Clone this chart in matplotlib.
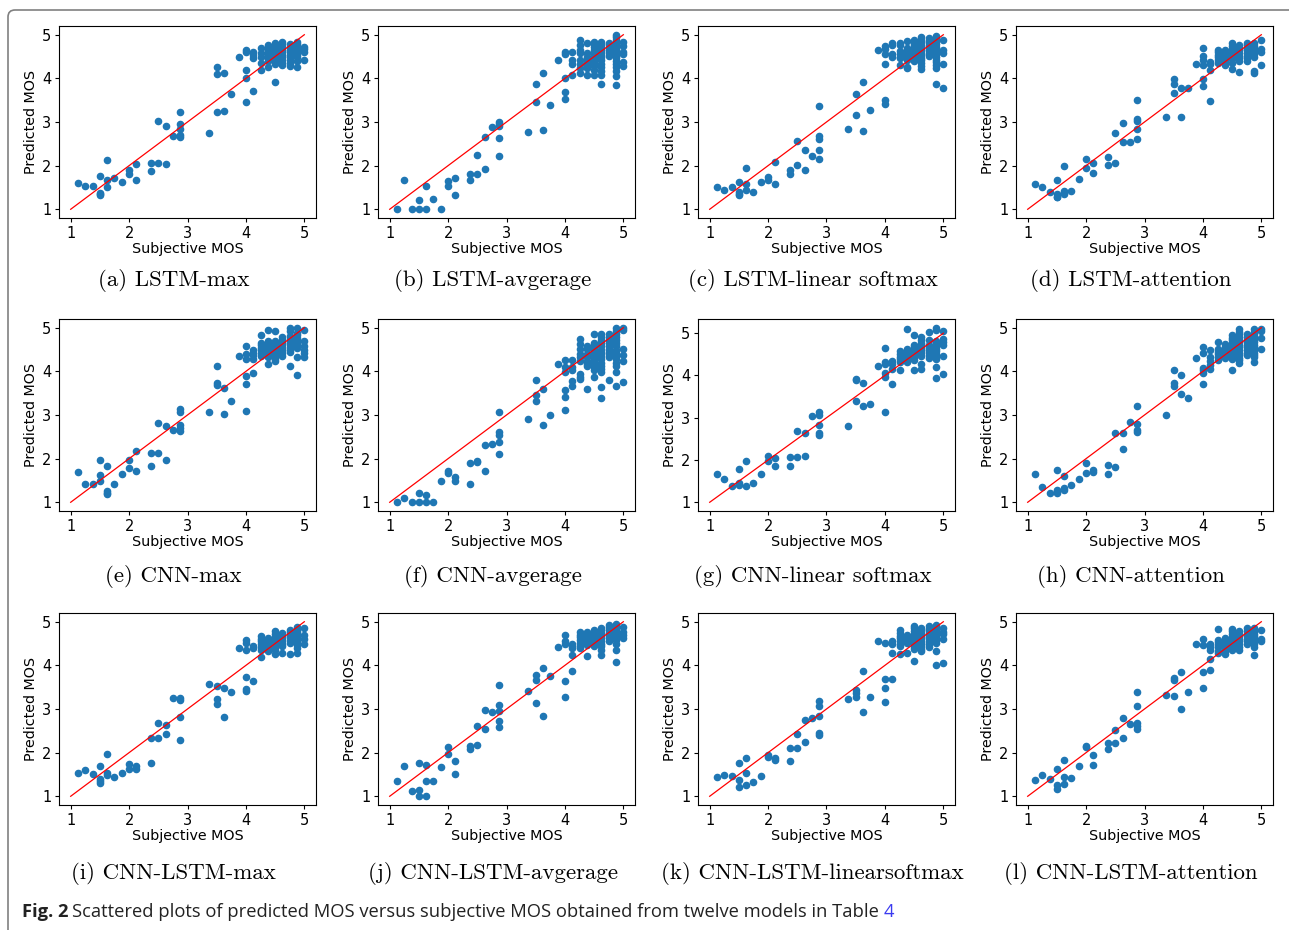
import matplotlib
matplotlib.use("Agg")
import matplotlib.pyplot as plt
from matplotlib.patches import FancyBboxPatch
from matplotlib.transforms import IdentityTransform

# subjective MOS levels (shared by all twelve models)
levels = [1.125, 1.25, 1.375, 1.5, 1.625, 1.75, 1.875, 2.0, 2.125, 2.375, 2.5, 2.625, 2.75, 2.875,
          3.375, 3.5, 3.625, 3.75, 3.875, 4.0, 4.125, 4.25, 4.375, 4.5, 4.625, 4.75, 4.875, 5.0]

# predicted MOS per level, one list per model
lstm_max = [[1.61], [1.54], [1.54], [1.77, 1.38, 1.35, 1.32], [2.14, 1.66, 1.50], [1.72], [1.63],
            [1.90, 1.81], [2.04, 1.67], [2.05, 1.87], [3.03, 2.05], [2.90, 2.03], [2.67],
            [3.23, 2.95, 2.84, 2.71, 2.66], [2.75], [4.25, 4.10, 3.23], [4.13, 3.26], [3.65], [4.50],
            [4.65, 4.60, 4.20, 4.01, 3.46], [4.61, 4.53, 4.46, 3.70], [4.69, 4.59, 4.50, 4.36, 4.19],
            [4.76, 4.70, 4.64, 4.58, 4.52, 4.46, 4.40, 4.27],
            [4.80, 4.74, 4.68, 4.62, 4.56, 4.50, 4.44, 4.38, 4.33, 3.91],
            [4.84, 4.78, 4.72, 4.66, 4.60, 4.54, 4.48, 4.42, 4.36, 4.31],
            [4.78, 4.72, 4.66, 4.60, 4.54, 4.48, 4.42, 4.36, 4.28],
            [4.84, 4.78, 4.72, 4.66, 4.60, 4.54, 4.48, 4.40, 4.25], [4.72, 4.67, 4.61, 4.43]]

lstm_avg = [[1.00], [1.66], [1.00], [1.22, 1.00], [1.54, 1.00], [1.24], [1.00], [1.64, 1.54],
            [1.71, 1.33], [1.81, 1.66], [2.25, 1.81], [2.66, 1.93], [2.89],
            [2.99, 2.95, 2.90, 2.64, 2.23], [2.77], [3.88, 3.46], [4.13, 2.82], [3.39], [4.42],
            [4.60, 4.56, 4.01, 3.68, 3.53], [4.60, 4.42, 4.34, 4.08],
            [4.87, 4.76, 4.66, 4.57, 4.42, 4.34, 4.23, 4.13],
            [4.80, 4.57, 4.50, 4.44, 4.38, 4.31, 4.23, 4.08],
            [4.84, 4.78, 4.72, 4.66, 4.60, 4.54, 4.48, 4.42, 4.36, 4.28, 4.20, 4.08],
            [4.84, 4.78, 4.72, 4.66, 4.60, 4.54, 4.48, 4.42, 4.34, 4.26, 4.17, 4.08, 3.88],
            [4.82, 4.76, 4.70, 4.64, 4.58, 4.52],
            [5.00, 4.94, 4.88, 4.82, 4.76, 4.70, 4.64, 4.58, 4.52, 4.46, 4.40, 4.34, 4.26, 4.18, 4.05, 3.84],
            [4.84, 4.75, 4.61, 4.55, 4.37, 4.28]]

lstm_lin = [[1.51], [1.44], [1.50], [1.63, 1.40, 1.35, 1.32], [1.95, 1.57, 1.44], [1.39], [1.63],
            [1.74, 1.67], [2.08, 1.58], [1.91, 1.80], [2.56, 2.02], [2.35, 1.89], [2.22],
            [3.36, 2.69, 2.60, 2.35, 2.16], [2.85], [3.65, 3.16], [3.92, 2.79], [3.28], [4.64],
            [4.74, 4.68, 4.56, 4.34, 3.50, 3.42], [4.82, 4.76, 4.55, 4.48],
            [4.82, 4.77, 4.62, 4.56, 4.50, 4.46, 4.30],
            [4.85, 4.69, 4.63, 4.57, 4.51, 4.45, 4.42, 4.27, 4.23],
            [4.88, 4.82, 4.76, 4.70, 4.64, 4.58, 4.52, 4.46, 4.40],
            [4.95, 4.89, 4.83, 4.77, 4.71, 4.65, 4.59, 4.53, 4.47, 4.41, 4.35, 4.28, 4.22],
            [4.92, 4.86, 4.80, 4.74, 4.68, 4.62, 4.56, 4.52],
            [4.97, 4.91, 4.85, 4.79, 4.73, 4.67, 4.61, 4.55, 4.49, 4.43, 4.37, 4.30, 4.24, 3.87],
            [4.89, 4.66, 4.59, 4.34, 3.77]]

lstm_att = [[1.58], [1.52], [1.40], [1.67, 1.34, 1.29, 1.27], [2.00, 1.43, 1.38, 1.34], [1.41], [1.70],
            [2.15, 1.95], [2.05, 1.83], [2.19, 2.02], [2.75, 2.05], [2.97, 2.54], [2.54],
            [3.51, 3.07, 3.03, 2.84, 2.62], [3.12], [3.99, 3.88, 3.67], [3.77, 3.11], [3.77], [4.33],
            [4.70, 4.52, 4.43, 4.30, 3.99, 3.82], [4.38, 4.33, 4.20, 3.48],
            [4.66, 4.60, 4.54, 4.48, 4.42, 4.36],
            [4.66, 4.60, 4.54, 4.48, 4.42, 4.35, 4.31],
            [4.80, 4.74, 4.68, 4.62, 4.56, 4.50, 4.44, 4.36, 4.22],
            [4.76, 4.70, 4.64, 4.58, 4.52, 4.46, 4.40, 4.14],
            [4.82, 4.76, 4.70, 4.64, 4.58, 4.52, 4.46, 4.40],
            [4.80, 4.74, 4.68, 4.62, 4.56, 4.50, 4.17, 4.13], [4.88, 4.68, 4.61, 4.30]]

cnn_max = [[1.70], [1.41], [1.42], [1.97, 1.62, 1.49], [1.84, 1.26, 1.22, 1.18], [1.43], [1.64],
           [1.98, 1.78], [2.18, 1.71], [2.13, 1.83], [2.81, 2.14], [2.74, 1.97], [2.65],
           [3.13, 3.08, 2.76, 2.70, 2.63], [3.06], [4.13, 3.73, 3.69], [3.61, 3.03], [3.32], [4.36],
           [4.58, 4.39, 4.28, 3.90, 3.71, 3.10], [4.49, 4.43, 4.37, 4.28, 3.96],
           [4.84, 4.66, 4.60, 4.54, 4.48, 4.41, 4.36],
           [4.95, 4.70, 4.64, 4.58, 4.52, 4.46, 4.40, 4.32, 4.16],
           [4.92, 4.70, 4.64, 4.58, 4.52, 4.46, 4.40, 4.34, 4.28, 4.23],
           [4.78, 4.72, 4.66, 4.60, 4.54, 4.48, 4.42, 4.36],
           [5.00, 4.93, 4.80, 4.74, 4.68, 4.62, 4.56, 4.50, 4.44, 4.13],
           [5.00, 4.89, 4.83, 4.77, 4.71, 4.65, 4.59, 4.53, 4.32, 3.92],
           [4.94, 4.70, 4.58, 4.50, 4.41, 4.33]]

cnn_avg = [[1.00], [1.10], [1.00], [1.21, 1.00], [1.16, 1.00], [1.00], [1.48], [1.72, 1.68],
           [1.57, 1.49], [1.91, 1.42], [1.95, 1.92], [2.32, 1.71], [2.33],
           [3.06, 2.60, 2.55, 2.38, 2.11], [2.90], [3.81, 3.46, 3.31], [3.59, 2.76], [3.00], [4.17],
           [4.25, 4.11, 3.99, 3.57, 3.42, 3.11], [4.25, 4.10, 4.02, 3.78, 3.66],
           [4.75, 4.62, 4.51, 4.39, 4.32, 4.24, 3.94, 3.88, 3.82],
           [4.59, 4.52, 4.39, 4.32, 4.24, 4.17, 4.13, 3.59],
           [4.86, 4.66, 4.59, 4.52, 4.45, 4.38, 4.31, 4.24, 4.17, 4.10, 4.03, 3.86],
           [4.85, 4.79, 4.72, 4.65, 4.58, 4.50, 4.42, 4.35, 4.28, 4.20, 4.13, 4.05, 3.98, 3.65, 3.39],
           [4.85, 4.79, 4.72, 4.65, 4.58, 4.52, 4.45, 4.39, 4.32, 3.80],
           [5.00, 4.93, 4.86, 4.79, 4.72, 4.65, 4.58, 4.50, 4.42, 4.35, 4.28, 4.20, 4.13, 3.98, 3.67],
           [5.00, 4.95, 4.52, 4.37, 4.24, 3.75]]

cnn_lin = [[1.66], [1.55], [1.39], [1.78, 1.46, 1.40], [1.97, 1.39], [1.46], [1.66], [2.10, 1.98],
           [2.04, 1.85], [2.08, 1.87], [2.68, 2.08], [2.64, 2.10], [3.03],
           [3.13, 3.07, 2.83, 2.64, 2.60], [2.80], [3.92, 3.89, 3.39], [3.83, 3.28], [3.33], [4.23],
           [4.64, 4.33, 4.27, 4.06, 3.96, 3.13], [4.34, 4.27, 4.15, 3.80],
           [4.57, 4.51, 4.44, 4.38, 4.32, 4.12],
           [5.10, 4.62, 4.56, 4.50, 4.44, 4.38, 4.33],
           [4.95, 4.73, 4.67, 4.61, 4.55, 4.49, 4.43, 4.37, 4.14],
           [4.90, 4.84, 4.78, 4.72, 4.66, 4.60, 4.53, 4.47, 4.26, 4.16],
           [5.02, 4.85, 4.73, 4.67, 4.61, 4.55, 4.48, 4.42],
           [5.13, 5.08, 4.81, 4.75, 4.69, 4.63, 4.57, 4.51, 4.45, 4.38, 4.20, 3.93],
           [5.06, 4.87, 4.79, 4.71, 4.47, 4.03]]

cnn_att = [[1.64], [1.34], [1.21], [1.73, 1.29, 1.26, 1.22], [1.61, 1.32, 1.28], [1.40], [1.54],
           [1.91, 1.68], [1.73, 1.70], [1.85, 1.64], [2.58, 1.81], [2.59, 2.23], [2.84],
           [3.21, 2.80, 2.66, 2.60], [3.00], [4.04, 3.73, 3.67], [3.92, 3.49], [3.38], [4.31],
           [4.55, 4.43, 4.08, 4.03, 3.96, 3.70], [4.49, 4.34, 4.24, 4.14, 4.06],
           [4.67, 4.51, 4.45, 4.39, 4.33, 4.25],
           [4.62, 4.56, 4.50, 4.44, 4.38, 4.31],
           [4.83, 4.77, 4.71, 4.65, 4.59, 4.53, 4.47, 4.41, 4.35, 4.28, 4.04],
           [4.97, 4.91, 4.85, 4.79, 4.73, 4.67, 4.61, 4.55, 4.49, 4.43, 4.37, 4.31, 4.25, 4.19],
           [4.85, 4.79, 4.73, 4.67, 4.61, 4.55, 4.49, 4.43, 4.37],
           [4.97, 4.91, 4.85, 4.79, 4.73, 4.67, 4.61, 4.55, 4.49, 4.43, 4.38, 4.33, 4.22],
           [4.97, 4.92, 4.76, 4.51]]

cl_max = [[1.54], [1.61], [1.51], [1.69, 1.39, 1.34, 1.30], [1.96, 1.53, 1.48], [1.45], [1.54],
          [1.75, 1.63], [1.70, 1.62], [2.34, 1.77], [2.67, 2.34], [2.63, 2.43], [3.26],
          [3.25, 3.21, 2.82, 2.29], [3.57], [3.52, 3.23, 3.11], [3.47, 2.82], [3.39], [4.39],
          [4.57, 4.52, 4.36, 3.74, 3.45, 3.42], [4.45, 4.39, 3.64],
          [4.67, 4.61, 4.55, 4.49, 4.43, 4.36, 4.20],
          [4.63, 4.57, 4.51, 4.45, 4.39, 4.33],
          [4.78, 4.72, 4.66, 4.60, 4.54, 4.48, 4.42, 4.36, 4.25],
          [4.74, 4.68, 4.62, 4.56, 4.50, 4.44, 4.29],
          [4.82, 4.76, 4.70, 4.64, 4.58, 4.52, 4.25],
          [4.88, 4.82, 4.76, 4.70, 4.64, 4.58, 4.52, 4.46, 4.40, 4.28],
          [4.85, 4.69, 4.60, 4.48]]

cl_avg = [[1.34], [1.70], [1.11], [1.77, 1.14, 1.01], [1.72, 1.34, 1.01], [1.36], [1.67], [2.12, 1.98],
          [1.81, 1.51], [2.16, 2.09], [2.60, 2.17], [2.98, 2.55], [2.92],
          [3.56, 3.10, 2.95, 2.72, 2.59], [3.42], [3.77, 3.67, 3.13], [3.93, 2.85], [3.76], [4.42],
          [4.69, 4.56, 4.48, 3.65, 3.28], [4.50, 4.44, 4.39, 4.23, 3.88],
          [4.76, 4.70, 4.64, 4.58, 4.52, 4.45, 4.40],
          [4.77, 4.71, 4.65, 4.59, 4.53, 4.47, 4.22],
          [4.82, 4.76, 4.70, 4.64, 4.58, 4.51, 4.45],
          [4.86, 4.80, 4.74, 4.68, 4.62, 4.56, 4.50, 4.44, 4.35, 4.23],
          [4.93, 4.87, 4.81, 4.75, 4.69, 4.63, 4.56],
          [4.94, 4.88, 4.82, 4.76, 4.70, 4.64, 4.58, 4.50, 4.36, 4.08],
          [4.88, 4.77, 4.69, 4.62]]

cl_lin = [[1.44], [1.48], [1.47], [1.76, 1.38, 1.22], [1.88, 1.54, 1.25], [1.33], [1.46], [1.94, 1.90],
          [1.88, 1.84], [2.10, 1.81], [2.43, 2.11], [2.75, 2.25], [2.79],
          [3.18, 3.06, 2.83, 2.45, 2.41], [3.24], [3.44, 3.37, 3.27], [3.86, 2.92], [3.28], [4.55],
          [4.52, 3.69, 3.49, 3.15], [4.55, 4.49, 4.29, 3.69],
          [4.80, 4.74, 4.68, 4.62, 4.56, 4.50, 4.44, 4.26],
          [4.69, 4.63, 4.57, 4.51, 4.29],
          [4.91, 4.85, 4.79, 4.73, 4.67, 4.61, 4.55, 4.49, 4.43, 4.37, 4.10],
          [4.86, 4.80, 4.74, 4.68, 4.62, 4.56, 4.50, 4.44, 4.38, 4.33],
          [4.90, 4.84, 4.78, 4.72, 4.66, 4.60, 4.54, 4.48, 4.42],
          [4.93, 4.87, 4.81, 4.75, 4.69, 4.63, 4.57, 4.51, 4.34, 4.00],
          [4.85, 4.77, 4.71, 4.61, 4.06]]

cl_att = [[1.37], [1.48], [1.39], [1.62, 1.26, 1.16], [1.82, 1.44, 1.29], [1.41], [1.70], [2.16, 2.12],
          [1.95, 1.71], [2.22, 2.09], [2.51, 2.21], [2.80, 2.33], [2.66],
          [3.38, 3.08, 2.68, 2.62, 2.54], [3.33], [3.70, 3.66, 3.29], [3.85, 2.99], [3.38], [4.48],
          [4.60, 4.46, 3.85, 3.47], [4.48, 4.41, 4.36, 4.15, 3.90],
          [4.84, 4.59, 4.53, 4.47, 4.41, 4.34, 4.29],
          [4.63, 4.57, 4.51, 4.45, 4.39, 4.32, 4.25],
          [4.84, 4.78, 4.72, 4.66, 4.60, 4.53, 4.47, 4.41, 4.35],
          [4.79, 4.73, 4.67, 4.61, 4.55, 4.49, 4.43, 4.36],
          [4.85, 4.79, 4.73, 4.67, 4.61, 4.55, 4.49],
          [4.85, 4.79, 4.73, 4.67, 4.61, 4.55, 4.49, 4.43, 4.23],
          [4.82, 4.61, 4.56]]

captions = ["(a) LSTM-max", "(b) LSTM-avgerage", "(c) LSTM-linear softmax", "(d) LSTM-attention",
            "(e) CNN-max", "(f) CNN-avgerage", "(g) CNN-linear softmax", "(h) CNN-attention",
            "(i) CNN-LSTM-max", "(j) CNN-LSTM-avgerage", "(k) CNN-LSTM-linearsoftmax",
            "(l) CNN-LSTM-attention"]
panels = [lstm_max, lstm_avg, lstm_lin, lstm_att, cnn_max, cnn_avg, cnn_lin, cnn_att,
          cl_max, cl_avg, cl_lin, cl_att]

W, H = 1289, 930
fig = plt.figure(figsize=(W / 100, H / 100), dpi=100)

# frame of the figure box (only left and top edges are visible)
frame = FancyBboxPatch((8, -40), 1400, H - 10 + 40, boxstyle="round,pad=0,rounding_size=7",
                       transform=IdentityTransform(), fill=False, edgecolor="#808080", lw=1.2)
fig.patches.append(frame)

col_left = [59, 378, 698, 1016]
row_top = [26, 319, 613]
cap_y = [280, 576, 873]
AW, AH = 257, 192

for k, (name, preds) in enumerate(zip(captions, panels)):
    r, c = divmod(k, 4)
    left, top = col_left[c], row_top[r]
    ax = fig.add_axes([left / W, 1 - (top + AH) / H, AW / W, AH / H])
    xs = [lvl for lvl, ys in zip(levels, preds) for _ in ys]
    ys = [v for vals in preds for v in vals]
    ax.scatter(xs, ys, s=20, color="#1f77b4")
    ax.plot([1, 5], [1, 5], color="red", lw=0.9)
    ax.set_xticks([1, 2, 3, 4, 5])
    ax.set_yticks([1, 2, 3, 4, 5])
    ax.tick_params(labelsize=10.5, length=3, pad=2.5)
    ax.set_xlabel("Subjective MOS", fontsize=10.3, labelpad=1)
    ax.set_ylabel("Predicted MOS", fontsize=10.3, labelpad=3)
    fig.text((left + AW / 2 - 14) / W, 1 - cap_y[r] / H, name, ha="center", va="center",
             fontsize=16.5, family="cmr10")

# figure caption, drawn in pieces
base_y = 1 - 917 / H
fs = 13.2
fig.canvas.draw()
rend = fig.canvas.get_renderer()
t1 = fig.text(22 / W, base_y, "Fig. 2", fontsize=fs, weight="bold", family="Open Sans",
              va="baseline", color="#222222")
x1 = t1.get_window_extent(rend).x1
t2 = fig.text((x1 + 4) / W, base_y,
              "Scattered plots of predicted MOS versus subjective MOS obtained from twelve models in Table",
              fontsize=fs, family="Open Sans", va="baseline", color="#222222")
x2 = t2.get_window_extent(rend).x1
fig.text((x2 + 4) / W, base_y, "4", fontsize=fs, family="Open Sans", va="baseline", color="#3b3bf0")

fig.savefig("out.png", dpi=100)
